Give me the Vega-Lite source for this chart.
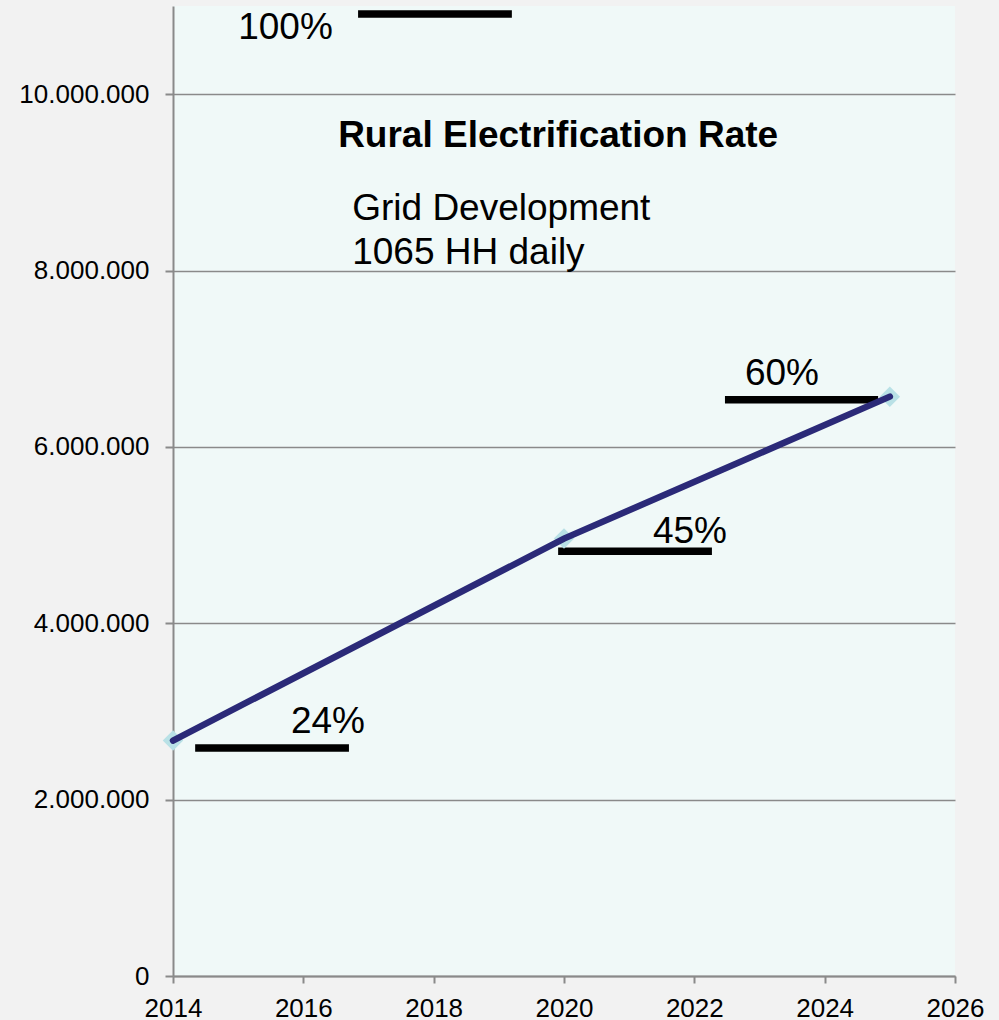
{
  "$schema": "https://vega.github.io/schema/vega-lite/v6.json",
  "width": 782,
  "height": 970,
  "autosize": {"type": "none"},
  "padding": {"left": 173, "top": 6, "right": 44, "bottom": 44},
  "background": "#f2f2f2",
  "view": {"fill": "#f0f9f8", "stroke": null},
  "config": {"font": "Liberation Sans"},
  "datasets": {
    "series": [
      {"x": 2014, "y": 2670000},
      {"x": 2020, "y": 4960000},
      {"x": 2025, "y": 6570000}
    ],
    "bars": [
      {"x": 2014.34, "x2": 2016.70, "y": 2586000},
      {"x": 2019.91, "x2": 2022.27, "y": 4817000},
      {"x": 2022.47, "x2": 2024.82, "y": 6536000},
      {"x": 2016.84, "x2": 2019.20, "y": 10908000}
    ],
    "notes": [
      {"x": 2015.81, "y": 2756000, "label": "24%"},
      {"x": 2021.365, "y": 4914000, "label": "45%"},
      {"x": 2022.777, "y": 6703000, "label": "60%"},
      {"x": 2015.0, "y": 10624000, "label": "100%"},
      {"x": 2016.75, "y": 8574000, "label": "Grid Development"},
      {"x": 2016.75, "y": 8075000, "label": "1065 HH daily"}
    ],
    "heading": [
      {"x": 2019.91, "y": 9400000, "label": "Rural Electrification Rate"}
    ]
  },
  "encoding": {
    "x": {
      "field": "x",
      "type": "quantitative",
      "scale": {"domain": [2014, 2026], "nice": false, "zero": false},
      "axis": {
        "title": null,
        "values": [2014, 2016, 2018, 2020, 2022, 2024, 2026],
        "format": "d",
        "grid": false,
        "labelFontSize": 26,
        "labelColor": "#000000",
        "labelPadding": 12,
        "labelFlush": false,
        "labelOverlap": false,
        "tickSize": 7,
        "tickWidth": 2,
        "tickColor": "#8a8a8a",
        "domainColor": "#8a8a8a",
        "domainWidth": 2
      }
    },
    "y": {
      "field": "y",
      "type": "quantitative",
      "scale": {"domain": [0, 11000000], "nice": false},
      "axis": {
        "title": null,
        "values": [0, 2000000, 4000000, 6000000, 8000000, 10000000],
        "labelExpr": "replace(format(datum.value, ','), regexp(',', 'g'), '.')",
        "grid": true,
        "gridColor": "#8a8a8a",
        "gridWidth": 1.5,
        "labelFontSize": 26,
        "labelColor": "#000000",
        "labelPadding": 16,
        "tickSize": 8,
        "tickWidth": 2,
        "tickColor": "#8a8a8a",
        "domainColor": "#8a8a8a",
        "domainWidth": 2
      }
    }
  },
  "layer": [
    {
      "data": {"name": "bars"},
      "mark": {"type": "rule", "color": "#000000", "strokeWidth": 7.5, "strokeCap": "butt"},
      "encoding": {"x2": {"field": "x2"}}
    },
    {
      "data": {"name": "series"},
      "mark": {"type": "point", "shape": "diamond", "filled": true, "size": 420, "color": "#b9e1e6", "opacity": 1}
    },
    {
      "data": {"name": "series"},
      "mark": {"type": "line", "color": "#2b2a78", "strokeWidth": 6.5, "strokeCap": "round"}
    },
    {
      "data": {"name": "notes"},
      "mark": {"type": "text", "fontSize": 37, "align": "left", "baseline": "alphabetic", "color": "#000000"},
      "encoding": {"text": {"field": "label"}}
    },
    {
      "data": {"name": "heading"},
      "mark": {"type": "text", "fontSize": 37, "fontWeight": "bold", "align": "center", "baseline": "alphabetic", "color": "#000000"},
      "encoding": {"text": {"field": "label"}}
    }
  ]
}
